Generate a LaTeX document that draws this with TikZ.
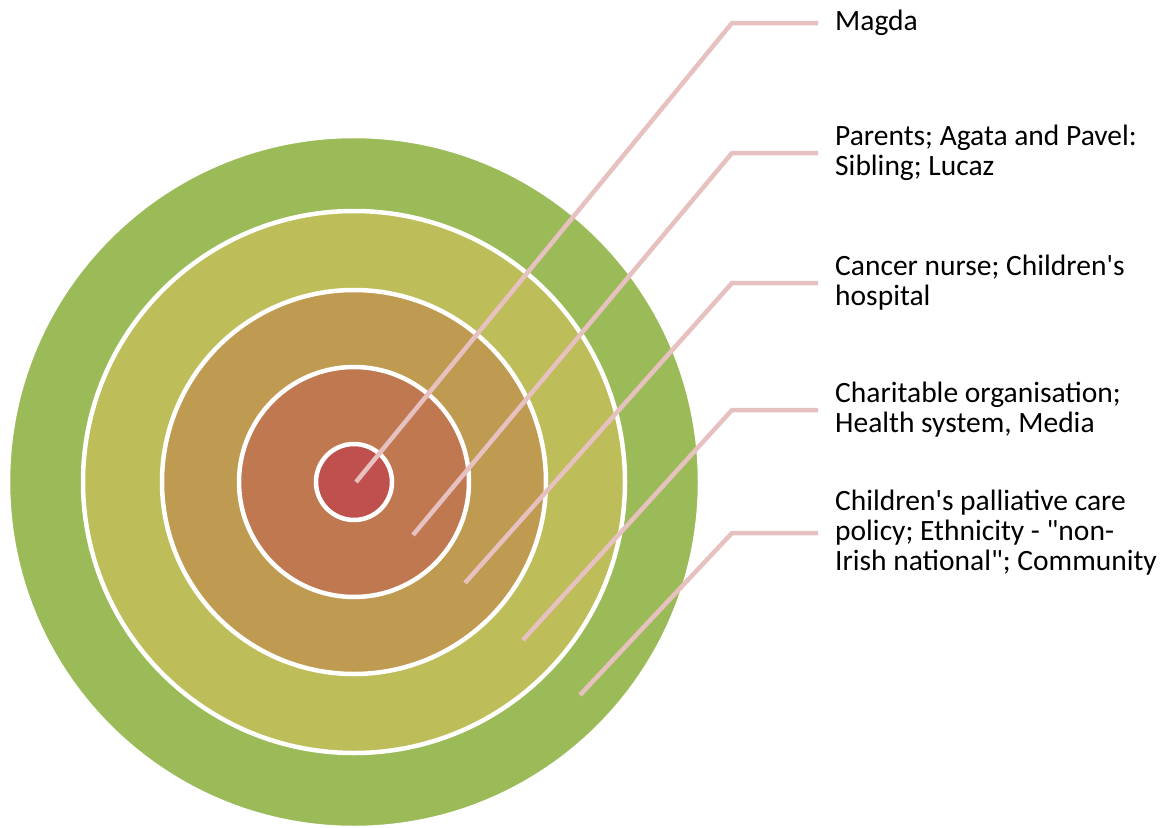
\documentclass[tikz,border=0pt]{standalone}
\usepackage{fontspec}
\setmainfont{Carlito}
\definecolor{ring1}{HTML}{9BBB59}
\definecolor{ring2}{HTML}{BDBD5A}
\definecolor{ring3}{HTML}{BF9B52}
\definecolor{ring4}{HTML}{C07850}
\definecolor{ring5}{HTML}{C0504D}
\definecolor{leader}{HTML}{E6C1C0}
\begin{document}
\begin{tikzpicture}[x=1bp,y=-1bp,
  ring/.style={draw=white,line width=4.5bp},
  lead/.style={draw=leader,line width=4.5bp},
  lbl/.style={anchor=west,align=left,inner sep=0pt,font=\fontsize{29.5bp}{30bp}\selectfont}]
\useasboundingbox (0,0) rectangle (1168,828);
\path[ring,fill=ring1] (354,482) circle (346);
\path[ring,fill=ring2] (354,482) circle (271);
\path[ring,fill=ring3] (354,482) circle (192);
\path[ring,fill=ring4] (354,482) circle (115);
\path[ring,fill=ring5] (354,482) circle (38);
\coordinate (e1) at (356,482);
\coordinate (e2) at (413,535);
\coordinate (e3) at (465,583);
\coordinate (e4) at (523,640);
\coordinate (e5) at (580,695);
\coordinate (k1) at (732,23);
\coordinate (k2) at (732,153);
\coordinate (k3) at (732,283);
\coordinate (k4) at (732,410);
\coordinate (k5) at (732,533);
\node[lbl] (t1) at (835,23) {Magda};
\node[lbl] (t2) at (835,153) {Parents; Agata and Pavel:\\Sibling; Lucaz};
\node[lbl] (t3) at (835,283) {Cancer nurse; Children\textquotesingle s\\hospital};
\node[lbl] (t4) at (835,410) {Charitable organisation;\\Health system, Media};
\node[lbl] (t5) at (835,533) {Children\textquotesingle s palliative care\\policy; Ethnicity - \textquotedbl non-\\Irish national\textquotedbl; Community};
\foreach \i in {1,...,5}{
  \draw[lead] (e\i) -- (k\i) -- ([xshift=-17bp]t\i.west);
}
\end{tikzpicture}
\end{document}
